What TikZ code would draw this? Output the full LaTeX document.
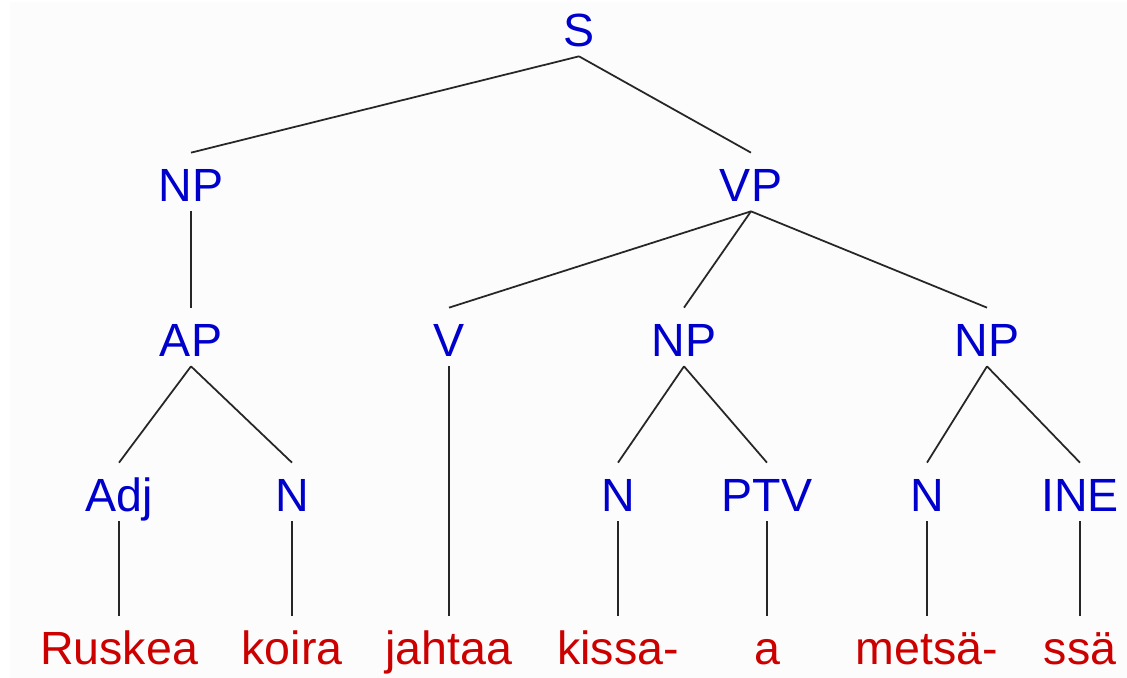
\documentclass[tikz,border=0pt]{standalone}
\usepackage{fontspec}
\setmainfont{Liberation Sans}
\definecolor{catblue}{RGB}{0,0,205}
\definecolor{wordred}{RGB}{205,0,0}
\tikzset{
  cat/.style={anchor=base, text=catblue, inner xsep=2pt, inner ysep=0.18cm,
    text height=0.8cm, text depth=0pt, font=\fontsize{26.5}{29}\selectfont},
  word/.style={cat, text=wordred},
  branch/.style={black!85, line width=1pt}
}

\begin{document}
\begin{tikzpicture}[x=0.02cm, y=-0.02cm]
\useasboundingbox (0,0) rectangle (1127,678);
\fill[black!1] (10,2) rectangle (1127,678);
% phrase level
\node[cat] (s) at (579,47) {S};
\node[cat] (np) at (191,202) {NP};
\node[cat] (vp) at (751,202) {VP};
\node[cat] (ap) at (191,357) {AP};
\node[cat] (v) at (449,357) {V};
\node[cat] (npobj) at (684,357) {NP};
\node[cat] (nploc) at (987,357) {NP};
% word level
\node[cat] (adj) at (119,512) {Adj};
\node[cat] (nsubj) at (292,512) {N};
\node[cat] (nobj) at (618,512) {N};
\node[cat] (ptv) at (767,512) {PTV};
\node[cat] (nloc) at (927,512) {N};
\node[cat] (ine) at (1080,512) {INE};
% leaves
\node[word] (ruskea) at (119,665) {Ruskea};
\node[word] (koira) at (292,665) {koira};
\node[word] (jahtaa) at (449,665) {jahtaa};
\node[word] (kissa) at (618,665) {kissa-};
\node[word] (a) at (767,665) {a};
\node[word] (metsa) at (927,665) {metsä-};
\node[word] (ssa) at (1080,665) {ssä};
% branches
\draw[branch] (s.south) -- (np.north);
\draw[branch] (s.south) -- (vp.north);
\draw[branch] (np.south) -- (ap.north);
\draw[branch] (vp.south) -- (v.north);
\draw[branch] (vp.south) -- (npobj.north);
\draw[branch] (vp.south) -- (nploc.north);
\draw[branch] (ap.south) -- (adj.north);
\draw[branch] (ap.south) -- (nsubj.north);
\draw[branch] (npobj.south) -- (nobj.north);
\draw[branch] (npobj.south) -- (ptv.north);
\draw[branch] (nploc.south) -- (nloc.north);
\draw[branch] (nploc.south) -- (ine.north);
\draw[branch] (adj.south) -- (ruskea.north);
\draw[branch] (nsubj.south) -- (koira.north);
\draw[branch] (v.south) -- (jahtaa.north);
\draw[branch] (nobj.south) -- (kissa.north);
\draw[branch] (ptv.south) -- (a.north);
\draw[branch] (nloc.south) -- (metsa.north);
\draw[branch] (ine.south) -- (ssa.north);
\end{tikzpicture}
\end{document}
